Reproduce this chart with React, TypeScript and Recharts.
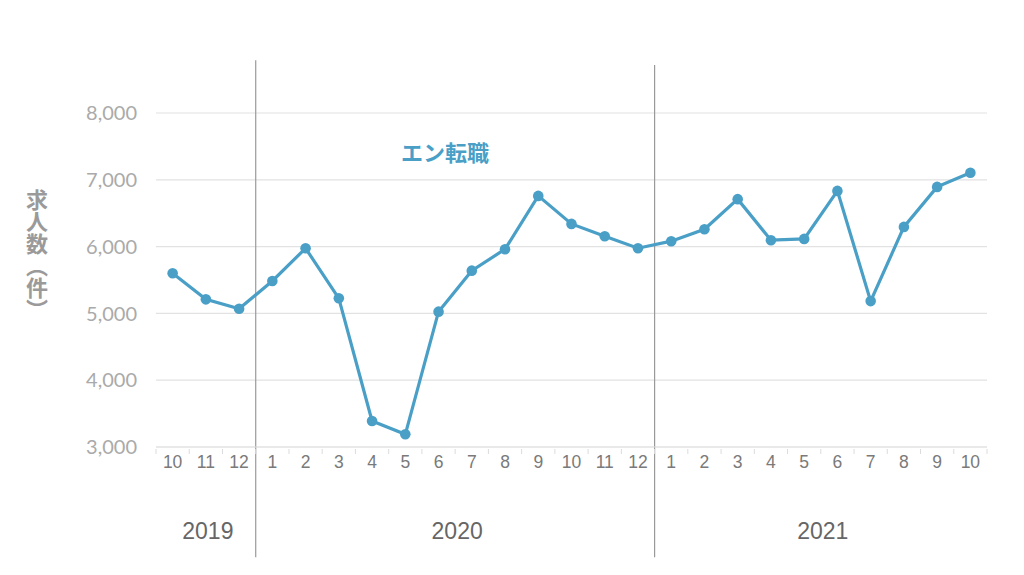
import { LineChart, Line, XAxis, YAxis, CartesianGrid, ReferenceLine, ReferenceArea, Legend } from "recharts";

// 月ごとの求人数（エン転職）
const years = [
  "2019", "2019", "2019",
  "2020", "2020", "2020", "2020", "2020", "2020", "2020", "2020", "2020", "2020", "2020", "2020",
  "2021", "2021", "2021", "2021", "2021", "2021", "2021", "2021", "2021", "2021",
];
const months = [
  "10", "11", "12",
  "1", "2", "3", "4", "5", "6", "7", "8", "9", "10", "11", "12",
  "1", "2", "3", "4", "5", "6", "7", "8", "9", "10",
];
const jobs = [
  5600, 5210, 5070,
  5485, 5975, 5226, 3390, 3190, 5026, 5640, 5961, 6759, 6340, 6156, 5976,
  6081, 6260, 6710, 6096, 6115, 6834, 5184, 6295, 6894, 7105,
];
const yTicks = [3000, 4000, 5000, 6000, 7000, 8000];
const seriesName = "エン転職";
const yTitle = "求人数（件）";

const LINE_COLOR = "#4a9fc7";

const data = months.map((m, i) => ({ key: `${years[i]}-${m}`, month: m, year: years[i], jobs: jobs[i] }));

// 年ごとの範囲（先頭と末尾のキー）
const yearSpans = Array.from(new Set(years)).map((y) => {
  const rows = data.filter((d) => d.year === y);
  return { year: y, first: rows[0].key, last: rows[rows.length - 1].key };
});

const MonthTick = (props: any) => {
  const { x, y, payload, index, visibleTicksCount } = props;
  const half = payload.offset ?? 0;
  const isLast = index === visibleTicksCount - 1;
  return (
    <g>
      <line x1={x - half} x2={x - half} y1={y - 6} y2={y - 1} stroke="#dcdcdc" />
      {isLast && <line x1={x + half} x2={x + half} y1={y - 6} y2={y - 1} stroke="#dcdcdc" />}
      <text x={x} y={y + 13} textAnchor="middle" fill="#7a7a7a" fontSize={17.5} fontFamily="'Liberation Sans', Arial, sans-serif">
        {data.find((d) => d.key === payload.value)?.month}
      </text>
    </g>
  );
};

const YTitle = (props: any) => {
  const { viewBox } = props;
  return (
    <text
      x={viewBox.x + 17}
      y={viewBox.y + viewBox.height * 0.425}
      textAnchor="middle"
      fill="#9a9a9a"
      fontSize={22}
      fontWeight="bold"
      fontFamily="'Noto Sans CJK JP', sans-serif"
      style={{ writingMode: "vertical-rl" }}
    >
      {yTitle}
    </text>
  );
};

const YearLabel = (year: string) => (props: any) => {
  const { viewBox } = props;
  return (
    <text
      x={viewBox.x + viewBox.width / 2 + 2}
      y={viewBox.y + viewBox.height / 2}
      textAnchor="middle"
      dominantBaseline="central"
      fill="#666"
      fontSize={23}
      fontFamily="'Liberation Sans', Arial, sans-serif"
    >
      {year}
    </text>
  );
};

const SeriesName = () => (
  <div style={{ color: LINE_COLOR, fontSize: 22, fontWeight: 700, fontFamily: "'Noto Sans CJK JP', sans-serif", whiteSpace: "nowrap" }}>
    {seriesName}
  </div>
);

export default function App() {
  return (
    <div style={{ position: "fixed", left: 0, top: 0, width: 1024, height: 575, background: "#fff" }}>
      <LineChart width={1024} height={575} data={data} margin={{ top: 113, right: 37, left: 20, bottom: 98 }}>
        <CartesianGrid vertical={false} stroke="#e2e2e2" strokeWidth={1.2} />
        <XAxis
          dataKey="key"
          scale="band"
          height={30}
          interval={0}
          axisLine={{ stroke: "#e2e2e2", strokeWidth: 1.2 }}
          tickLine={false}
          tick={<MonthTick />}
        />
        <YAxis
          width={136}
          domain={[3000, 8000]}
          ticks={yTicks}
          axisLine={false}
          tickLine={false}
          tickMargin={13}
          tickFormatter={(v: number) => v.toLocaleString("en-US")}
          tick={{ fill: "#aaa", fontSize: 20, fontFamily: "Lato, sans-serif" }}
          label={<YTitle />}
        />
        {yearSpans.map((s) => (
          <ReferenceArea
            key={s.year}
            x1={s.first}
            x2={s.last}
            y1={1600}
            y2={1900}
            ifOverflow="visible"
            fill="none"
            stroke="none"
            label={YearLabel(s.year)}
          />
        ))}
        {yearSpans.slice(1).map((s, i) => (
          <ReferenceLine
            key={s.year}
            position="start"
            ifOverflow="visible"
            segment={[
              { x: s.first, y: i === 0 ? 8790 : 8720 },
              { x: s.first, y: 1350 },
            ]}
            stroke="#999"
            strokeWidth={1.2}
          />
        ))}
        <Legend
          layout="horizontal"
          verticalAlign="middle"
          align="center"
          content={<SeriesName />}
          wrapperStyle={{ left: 401, top: 135, width: "auto" }}
        />
        <Line
          type="linear"
          dataKey="jobs"
          name={seriesName}
          stroke={LINE_COLOR}
          strokeWidth={3.2}
          dot={{ r: 5.3, fill: LINE_COLOR, stroke: LINE_COLOR, strokeWidth: 0 }}
          activeDot={false}
          isAnimationActive={false}
        />
      </LineChart>
    </div>
  );
}
